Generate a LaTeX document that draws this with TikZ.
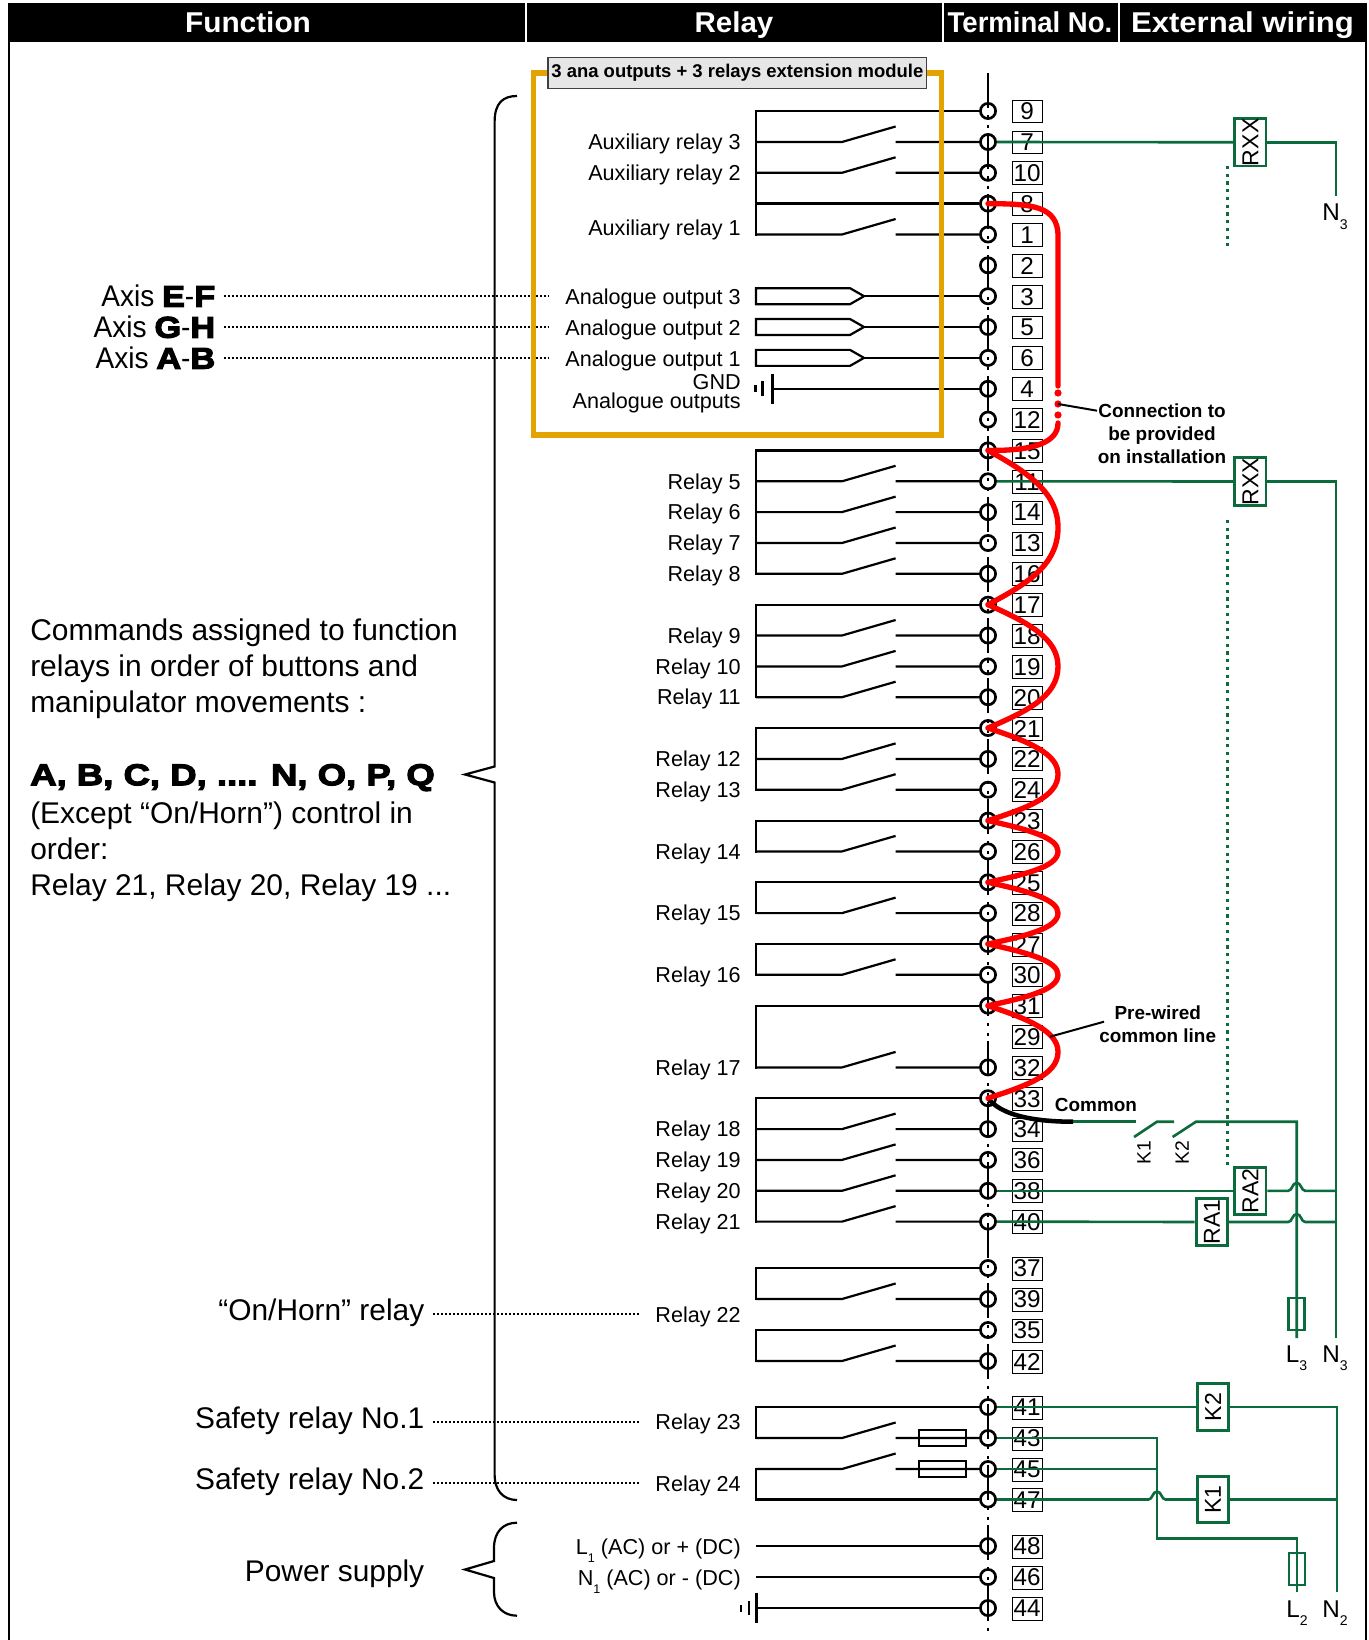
\documentclass[tikz,border=0pt]{standalone}
\usepackage{fontspec}
\setmainfont{Liberation Sans}
\newfontfamily\blkfont[BoldFeatures={FakeBold=4,FakeStretch=1.22}]{Liberation Sans}
\newcommand\blk[1]{{\blkfont\bfseries #1}}
\newcommand\fsz[1]{\fontsize{#1}{#1}\selectfont}
\definecolor{wgreen}{HTML}{0B6B3C}
\definecolor{orbox}{HTML}{E3A300}
\definecolor{hdrgray}{HTML}{E6E6E6}
\newcommand\sbs[1]{\raisebox{-.35em}{\fontsize{.58em}{.6em}\selectfont #1}}
\tikzset{
 blk/.style={line width=1.65pt},
 termc/.style={circle,draw,fill=white,line width=2pt,minimum size=11.4pt,inner sep=0pt},
 termb/.style={draw,fill=white,line width=.75pt,minimum width=22.5pt,minimum height=17.2pt,inner sep=0pt,font=\fsz{18.2},yshift=-.4pt},
 hdr/.style={text=white,font=\fsz{21.5}\bfseries,inner sep=0pt,anchor=base},
 rel/.style={anchor=mid east,inner sep=0pt,font=\fsz{16.2},yshift=-3.2pt},
 big/.style={anchor=mid east,inner sep=0pt,font=\fsz{22.4},yshift=-4.6pt},
 bigl/.style={anchor=mid west,inner sep=0pt,font=\fsz{22.45},yshift=-4.6pt},
 note/.style={inner sep=0pt,font=\fsz{14.2}\bfseries,align=center},
 green/.style={draw=wgreen,line width=1.95pt},
 gbox/.style={draw=wgreen,line width=2.2pt,fill=white,inner sep=0pt,minimum width=23.5pt,minimum height=35pt},
 gboxt/.style={gbox,rotate=90,minimum width=35pt,minimum height=23.5pt,font=\fsz{17.3}},
 gdot/.style={draw=wgreen,line width=1.8pt,dash pattern=on 2.4pt off 3.4pt},
 bdot/.style={line width=1.5pt,dash pattern=on 1.5pt off 1.5pt},
 redw/.style={draw=red,line width=4pt,line cap=round},
 lead/.style={line width=1.5pt},
 brace/.style={line width=1.65pt},
 ext/.style={inner sep=0pt,font=\fsz{18.2},anchor=base west},
 fusebox/.style={draw,line width=1.65pt,minimum width=35pt,minimum height=12pt,inner sep=0pt},
 gfuse/.style={draw=wgreen,line width=1.95pt,minimum width=12pt,minimum height=24pt,inner sep=0pt},
}
\newcommand\rloop[4]{% a, b, ya, h
 \pgfmathsetmacro\pa{#3+.15*#4}\pgfmathsetmacro\pb{#3+.28*#4}\pgfmathsetmacro\pc{#3+.5*#4}\pgfmathsetmacro\pd{#3+.75*#4}\pgfmathsetmacro\pe{#3+.87*#4}
 \draw[redw] (c#1.center) .. controls (1030,\pa) and (1058,\pb) .. (1058,\pc) .. controls (1058,\pd) and (1025,\pe) .. (c#2.center);}
\newcommand\jump[2]{-- (#1-8.5,#2) .. controls (#1-4.5,#2) and (#1-4.5,#2-8) .. (#1,#2-8) .. controls (#1+4.5,#2-8) and (#1+4.5,#2) .. (#1+8.5,#2)}
\begin{document}
\begin{tikzpicture}[x=.75pt,y=-.75pt]
\useasboundingbox (0,0) rectangle (1368,1640);
\fill[white] (0,0) rectangle (1368,1640);
% frame
\draw[line width=1.5pt] (8.5,40) -- (8.5,1640);
\draw[line width=1.5pt] (1366,40) -- (1366,1640);
% header
\fill[black] (8,3) rectangle (1367,42);
\draw[white,line width=1.5pt] (526,3) -- (526,42) (942.5,3) -- (942.5,42) (1119,3) -- (1119,42);
\node[hdr] (hf) at (248,33) {\scalebox{1.04}[1]{Function}};
\node[hdr] (hr) at (734,33) {\scalebox{1.03}[1]{Relay}};
\node[hdr] (ht) at (1030,33) {\scalebox{.96}[1]{Terminal No.}};
\node[hdr] (he) at (1242.5,33) {\scalebox{1.085}[1]{External wiring}};
% terminals coordinates
\foreach \n/\y in {9/111,7/142,10/172.8,8/203.6,1/234.5,2/265.3,3/296.2,5/327,6/357.9,4/388.8,12/419.6,15/450.4,11/481.3,14/512.1,13/543,16/573.8,17/604.7,18/635.5,19/666.4,20/697.2,21/728,22/758.9,24/789.7,23/820.6,26/851.4,25/882.3,28/913.1,27/944,30/974.8,31/1005.7,32/1067.4,33/1098.2,34/1129.1,36/1159.9,38/1190.8,40/1221.6,37/1268,39/1299,35/1330,42/1361,41/1407,43/1438,45/1469,47/1499.5,48/1546,46/1577,44/1608}{
  \node[termc] (c\n) at (988,\y) {};
  \node[termb] (t\n) at (1027,\y) {\n};
  \coordinate (r\n) at (756,\y);
  \coordinate (a\n) at (842,\y);
  \coordinate (b\n) at (895.6,\y-15.5);
  \coordinate (d\n) at (895.6,\y);
}
\node[termb] (t29) at (1027,1036.6) {29};
% wires (black)
\foreach \n in {7,10,1,11,14,13,16,18,19,20,22,24,26,28,30,32,34,36,38,40,39,42,43,45}{
  \draw[blk] (r\n) -- (a\n) -- (b\n) (d\n) -- (c\n.west);
}
\foreach \n in {9,8,15,17,21,23,25,27,31,33,37,35,41,47,48,46}{
  \draw[blk] (r\n) -- (c\n.west);
}
\foreach \p/\q in {9/1,15/16,17/20,21/24,23/26,25/28,27/30,31/32,33/40,37/39,35/42,41/43,45/47}{
  \draw[blk,line cap=rect] (r\p) -- (r\q);
}
% analogue outputs
\foreach \n/\y in {3/296.2,5/327,6/357.9}{
  \coordinate (p\n) at (864,\y);
  \draw[blk] (p\n) -- (c\n.west);
  \draw[blk] (p\n) -- (850,\y-8) -- (756,\y-8) -- (756,\y+8) -- (850,\y+8) -- cycle;
}
% fuses
\node[fusebox] (fa) at (942.5,1438) {};
\node[fusebox] (fb) at (942.5,1469) {};
\draw[blk] (d43) -- (c43.west) (d45) -- (c45.west);
% ground 4
\coordinate (g4) at (772.5,388.8);
\draw[blk] (g4) -- (c4.west);
\draw[blk] (772.5,374) -- (772.5,404);
\draw[line width=2.2pt] (762.5,381.5) -- (762.5,396.5);
\draw[line width=2.2pt] (755.5,385.5) -- (755.5,392.5);
% ground 44
\draw[blk] (r44) -- (c44.west);
\draw[blk] (756.5,1592.7) -- (756.5,1622.7);
\draw[line width=2.2pt] (749,1601) -- (749,1615);
\draw[line width=2.2pt] (741,1604.5) -- (741,1611.5);
% bus
\coordinate (bt) at (988,73);
\coordinate (bb) at (988,1632);
\draw[line width=1.8pt,dash pattern=on 26.25pt off 5.25pt on 2.25pt off 5.25pt on 2.25pt off 4.13pt] (bt) -- (bb);
% dotted leaders
\foreach \nm/\xa/\xb/\y in {la/223.6/548/296.2,lb/223.6/548/327,lc/223.6/548/357.9,ld/433/641/1314.3,le/433/641/1421.7,lf/433/641/1483.3}{
  \coordinate (\nm a) at (\xa,\y); \coordinate (\nm b) at (\xb,\y);
  \draw[bdot] (\nm a) -- (\nm b);
}
% braces
\draw[brace] (517,96) .. controls (503,96) and (494.6,103) .. (494.6,122) -- (494.6,766.5) -- (465,774.5) -- (494.6,782.5) -- (494.6,1475) .. controls (494.6,1490) and (503,1500) .. (517,1500);
\draw[brace] (517,1522.7) .. controls (503,1522.7) and (494,1532) .. (494,1548) -- (494,1561) -- (465,1569.5) -- (494,1578) -- (494,1592) .. controls (494,1606) and (503,1615.7) .. (517,1615.7);
% module box
\draw[orbox,line width=4.2pt] (533.6,73) rectangle (941.3,435);
\node[draw=black!75,fill=hdrgray,line width=1pt,minimum width=284pt,minimum height=23.2pt,inner sep=0pt,font=\fsz{13.85}\bfseries] (mod) at (737.4,72.8) {3 ana outputs + 3 relays extension module};
% relay labels
\foreach \nm/\y/\t in {A/142/Auxiliary relay 3,B/173/Auxiliary relay 2,C/228/Auxiliary relay 1,R5/481.3/Relay 5,R6/512.1/Relay 6,R7/543/Relay 7,R8/573.8/Relay 8,R9/635.5/Relay 9,R10/666.4/Relay 10,R11/697.2/Relay 11,R12/758.9/Relay 12,R13/789.7/Relay 13,R14/851.4/Relay 14,R15/913.1/Relay 15,R16/974.8/Relay 16,R17/1067.4/Relay 17,R18/1129.1/Relay 18,R19/1159.9/Relay 19,R20/1190.8/Relay 20,R21/1221.6/Relay 21,R22/1314.5/Relay 22,R23/1422/Relay 23,R24/1484/Relay 24,P1/1547/L\sbs{1} (AC) or + (DC),P2/1578/N\sbs{1} (AC) or - (DC),O3/296.5/Analogue output 3,O2/327.5/Analogue output 2,O1/358.5/Analogue output 1,G/382/GND,H/401/Analogue outputs}{
  \node[rel] (l\nm) at (741,\y) {\t};
}
% left labels
\node[big] (ef) at (215.5,297) {\scalebox{.94}[1]{Axis \blk{E}-\blk{F}}};
\node[big] (gh) at (215.5,328) {\scalebox{.94}[1]{Axis \blk{G}-\blk{H}}};
\node[big] (ab) at (215.5,359) {\scalebox{.94}[1]{Axis \blk{A}-\blk{B}}};
\node[big] (hn) at (424.5,1311) {“On/Horn” relay};
\node[big] (s1) at (424.5,1419) {Safety relay No.1};
\node[big] (s2) at (424.5,1480) {Safety relay No.2};
\node[big] (ps) at (424.5,1572) {Power supply};
\node[bigl] (ca) at (30,630.5) {Commands assigned to function};
\node[bigl] (cb) at (30,666.5) {relays in order of buttons and};
\node[bigl] (cc) at (30,702.5) {manipulator movements :};
\node[bigl] (ck) at (30,775.5) {\blk{A, B, C, D, .... N, O, P, Q}};
\node[bigl] (cd) at (30,813.5) {(Except “On/Horn”) control in};
\node[bigl] (ce) at (30,849.5) {order:};
\node[bigl] (cf) at (30,885.5) {Relay 21, Relay 20, Relay 19 ...};
% green external wiring
\node[gboxt] (rx1) at (1250.3,142.3) {RXX};
\node[gboxt] (rx2) at (1250.3,481.5) {RXX};
\node[gboxt] (ra2) at (1250.3,1190.8) {RA2};
\node[gboxt] (ra1) at (1211.8,1222) {RA1};
\node[gboxt] (kb) at (1213,1407) {K2};
\node[gboxt] (ka) at (1213,1499.5) {K1};
\coordinate (n3a) at (1336,142.3);
\coordinate (n3b) at (1336,196);
\coordinate (n4a) at (1336,481.5);
\coordinate (n4b) at (1336,1338);
\coordinate (n4j) at (1336,1190.8);
\coordinate (n4k) at (1336,1222);
\coordinate (n2a) at (1336.8,1407);
\coordinate (n2b) at (1336.8,1592);
\coordinate (n2k) at (1336.8,1499.5);
\draw[green] (c7.east) -- (rx1.north);
\draw[green] (rx1.south) -- (n3a) -- (n3b);
\draw[green] (c11.east) -- (rx2.north);
\draw[green] (rx2.south) -- (n4a) -- (n4b);
\draw[green] (c38.east) -- (ra2.north);
\draw[green] (ra2.south) \jump{1296.7}{1190.8} -- (n4j);
\draw[green] (c40.east) -- (ra1.north);
\draw[green] (ra1.south) \jump{1296.7}{1222} -- (n4k);
\draw[green] (c41.east) -- (kb.north);
\draw[green] (kb.south) -- (n2a) -- (n2b);
\draw[green] (c47.east) \jump{1157}{1499.5} -- (ka.north);
\draw[green] (ka.south) -- (n2k);
\coordinate (v43) at (1157,1438);
\coordinate (v45) at (1157,1469);
\coordinate (v1) at (1157,1538.5);
\coordinate (v2) at (1297,1538.5);
\coordinate (v3) at (1297,1592);
\draw[green] (c43.east) -- (v43) -- (v1) -- (v2) -- (v3);
\draw[green] (c45.east) -- (v45);
\node[gfuse] (fl2) at (1297,1569) {};
% common switches
\coordinate (cm) at (1073,1121.7);
\coordinate (k1a) at (1135.5,1121.7);
\coordinate (k1b) at (1134,1137);
\coordinate (k1c) at (1157,1121.7);
\coordinate (k2a) at (1174,1121.7);
\coordinate (k2b) at (1172.6,1137);
\coordinate (k2c) at (1196,1121.7);
\coordinate (l3a) at (1296.7,1121.7);
\coordinate (l3b) at (1296.7,1338);
\draw[green] (cm) -- (k1a);
\draw[green] (k1b) -- (k1c) -- (k2a);
\draw[green] (k2b) -- (k2c) -- (l3a) -- (l3b);
\node[gfuse] (fl3) at (1296.7,1314) {};
\node[rotate=90,inner sep=0pt,font=\fsz{14.5}] (k1t) at (1144,1153) {K1};
\node[rotate=90,inner sep=0pt,font=\fsz{14.5}] (k2t) at (1182,1153) {K2};
\coordinate (g1a) at (1227.3,166); \coordinate (g1b) at (1227.3,246);
\coordinate (g2a) at (1227.3,520); \coordinate (g2b) at (1227.3,1168);
\draw[gdot] (g1a) -- (g1b);
\draw[gdot] (g2a) -- (g2b);
% common (black)
\draw[line width=3.4pt] (c33.center) .. controls (1000,1114) and (1030,1121.7) .. (cm);
% red wires
\coordinate (ra) at (1058,386); \coordinate (rb) at (1058,423);
\draw[redw] (c8.center) .. controls (1030,204) and (1058,205) .. (1058,236) -- (ra);
\draw[redw] (rb) .. controls (1058,442) and (1035,451) .. (c15.center);
\foreach \y [count=\i] in {393,404,415}{\fill[red] (1058,\y) circle (2.7pt);}
\rloop{15}{17}{450.4}{154.3}
\rloop{17}{21}{604.7}{123.3}
\rloop{21}{23}{728}{92.6}
\rloop{23}{25}{820.6}{61.7}
\rloop{25}{27}{882.3}{61.7}
\rloop{27}{31}{944}{61.7}
\rloop{31}{33}{1005.7}{92.5}
% notes
\node[note] (con) at (1162,434) {Connection to\\[3pt]be provided\\[3pt]on installation};
\coordinate (cj) at (1058,404);
\coordinate (ck2) at (1097,410.7);
\draw[lead] (cj) -- (ck2);
\node[note] (prew) at (1157.7,1024.5) {Pre-wired\\[3pt]common line};
\coordinate (pj) at (1050,1036.7);
\coordinate (pk) at (1104,1021.7);
\draw[lead] (pj) -- (pk);
\node[inner sep=0pt,font=\fsz{14.2}\bfseries] (com) at (1096,1104.5) {Common};
% external labels
\node[ext] (tn3) at (1322,221) {N\sbs{3}};
\node[ext] (tl3) at (1285.5,1362) {L\sbs{3}};
\node[ext] (tn4) at (1322,1362) {N\sbs{3}};
\node[ext] (tl2) at (1286,1617) {L\sbs{2}};
\node[ext] (tn2) at (1322,1617) {N\sbs{2}};
\end{tikzpicture}
\end{document}
